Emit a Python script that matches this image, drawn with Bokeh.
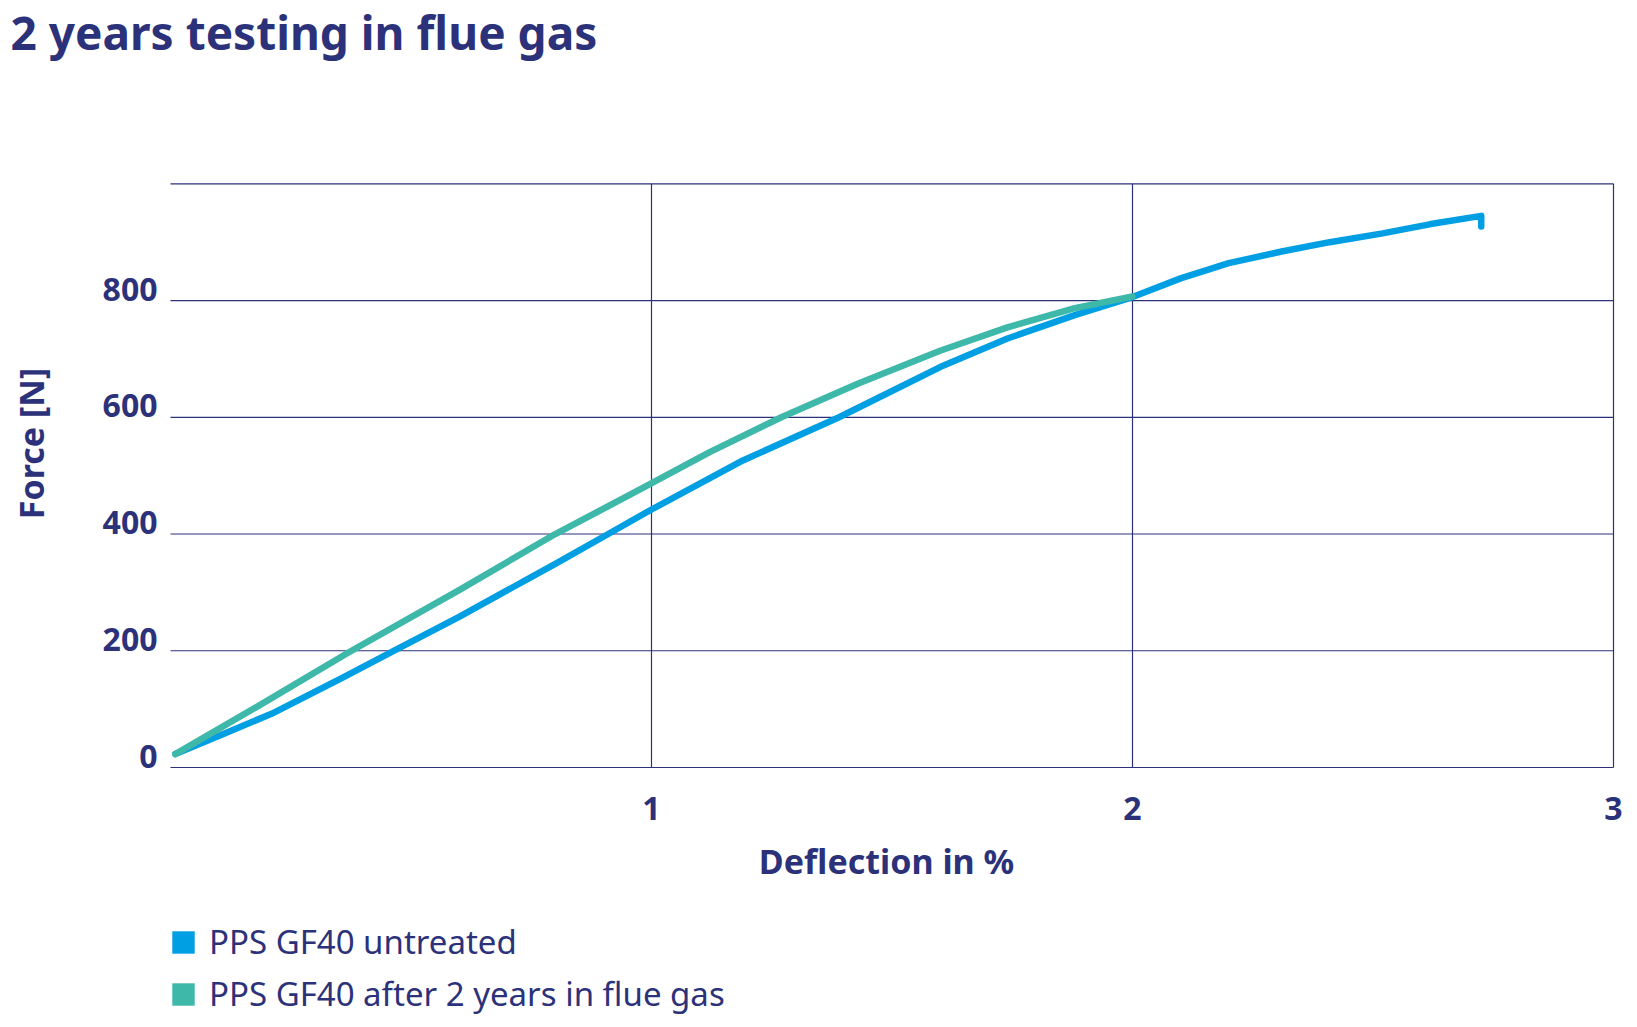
import math
from bokeh.plotting import figure
from bokeh.models import (Range1d, ColumnDataSource, Label, LabelSet, Legend, LegendItem)
from bokeh.core.properties import value
from bokeh.embed import file_html
from bokeh.resources import INLINE

# ---------------- data ----------------
title_text = "2 years testing in flue gas"
x_label = "Deflection in %"
y_label = "Force [N]"
series_names = ["PPS GF40 untreated", "PPS GF40 after 2 years in flue gas"]

x_ticks = [1, 2, 3]
y_ticks = [0, 200, 400, 600, 800]
grid_y = [0, 200, 400, 600, 800, 1000]

untreated_x = [0.01, 0.10, 0.21, 0.36, 0.46, 0.60, 0.80, 0.91, 1.00, 1.19, 1.39,
               1.60, 1.74, 1.88, 2.00, 2.10, 2.20, 2.31, 2.41, 2.52, 2.62, 2.725, 2.725]
untreated_y = [23, 54, 92, 155, 198, 258, 349, 400, 442, 526, 600,
               686, 735, 775, 806, 838, 864, 884, 900, 915, 931, 945, 927]

flue_x = [0.01, 0.19, 0.37, 0.60, 0.80, 0.98, 1.12, 1.27, 1.43, 1.60, 1.74, 1.88, 2.00]
flue_y = [23, 109, 197, 304, 400, 478, 540, 600, 658, 714, 754, 787, 807]

# ---------------- style / layout ----------------
NAVY = "#2c327a"
BLUE = "#009fe3"
TEAL = "#3db8a9"
FONT = value("Noto Sans")

W, H = 1637, 1027
PX_X = 481.0          # pixels per % deflection
PX_Y = 0.5837         # pixels per N
X0_PX, Y0_PX = 170, 260   # pixel position of the origin (from left / from bottom)

x_range = Range1d(-X0_PX / PX_X, (W - X0_PX) / PX_X)
y_range = Range1d(-Y0_PX / PX_Y, (H - Y0_PX) / PX_Y)

p = figure(width=W, height=H, output_backend="svg", toolbar_location=None,
           x_range=x_range, y_range=y_range,
           x_axis_location=None, y_axis_location=None, title_location=None,
           min_border=0, min_border_left=0, min_border_right=0,
           min_border_top=0, min_border_bottom=0)
p.outline_line_color = None
p.background_fill_color = "white"
p.border_fill_color = "white"
p.xgrid.visible = False
p.ygrid.visible = False

# ---- grid: horizontal lines at grid_y across the x extent, vertical at x_ticks ----
x_lo, x_hi = 0, max(x_ticks)
y_lo, y_hi = 0, max(grid_y)
p.segment(x0=[x_lo] * len(grid_y), x1=[x_hi] * len(grid_y), y0=grid_y, y1=grid_y,
          line_color=NAVY, line_width=1.2)
p.segment(x0=x_ticks, x1=x_ticks, y0=[y_lo] * len(x_ticks), y1=[y_hi] * len(x_ticks),
          line_color=NAVY, line_width=1.2)

# ---- tick labels ----
ysrc = ColumnDataSource(dict(y=y_ticks, text=[str(v) for v in y_ticks],
                             x=[X0_PX - 13] * len(y_ticks)))
p.add_layout(LabelSet(x="x", y="y", text="text", source=ysrc,
                      x_units="screen", y_units="data",
                      text_align="right", text_baseline="alphabetic",
                      text_font=FONT, text_font_style="bold",
                      text_font_size="32px", text_color=NAVY))

xsrc = ColumnDataSource(dict(x=x_ticks, text=[str(v) for v in x_ticks],
                             y=[H - 819] * len(x_ticks)))
p.add_layout(LabelSet(x="x", y="y", text="text", source=xsrc,
                      x_units="data", y_units="screen",
                      text_align="center", text_baseline="alphabetic",
                      text_font=FONT, text_font_style="bold",
                      text_font_size="32px", text_color=NAVY))

# ---- axis titles and chart title ----
xt_src = ColumnDataSource(dict(x=[886], y=[H - 873], text=[x_label]))
p.add_layout(LabelSet(x="x", y="y", text="text", source=xt_src,
                      x_units="screen", y_units="screen",
                      text_align="center", text_baseline="alphabetic",
                      text_font=FONT, text_font_style="bold", text_font_size="34px",
                      text_color=NAVY))
tt_src = ColumnDataSource(dict(x=[10], y=[H - 49], text=[title_text]))
p.add_layout(LabelSet(x="x", y="y", text="text", source=tt_src,
                      x_units="screen", y_units="screen",
                      text_align="left", text_baseline="alphabetic",
                      text_font=FONT, text_font_style="bold", text_font_size="46px",
                      text_color=NAVY))
p.add_layout(Label(x=30, y=H - 443, x_units="screen", y_units="screen", text=y_label,
                   angle=math.pi / 2, text_align="center", text_baseline="middle",
                   text_font="Noto Sans", text_font_style="bold", text_font_size="34px",
                   text_color=NAVY))

# ---- series ----
p.line(untreated_x, untreated_y, line_color=BLUE, line_width=6.5,
       line_cap="round", line_join="round")
p.line(flue_x, flue_y, line_color=TEAL, line_width=6.5,
       line_cap="round", line_join="round")

# ---- legend (square swatches from area renderers that draw nothing on the plot) ----
nan = float("nan")
s1 = p.quad(left=[nan], right=[nan], top=[nan], bottom=[nan], fill_color=BLUE, line_color=None)
s2 = p.quad(left=[nan], right=[nan], top=[nan], bottom=[nan], fill_color=TEAL, line_color=None)
legend = Legend(items=[LegendItem(label=series_names[0], renderers=[s1]),
                       LegendItem(label=series_names[1], renderers=[s2])],
                location=(169, 11), orientation="vertical",
                glyph_width=28, glyph_height=28, label_height=28, spacing=7,
                padding=0, margin=0, border_line_color=None,
                background_fill_alpha=0, label_standoff=12,
                label_text_font="Noto Sans", label_text_font_size="33px",
                label_text_color=NAVY)
p.add_layout(legend)

open("out.html", "w").write(file_html(p, INLINE))
